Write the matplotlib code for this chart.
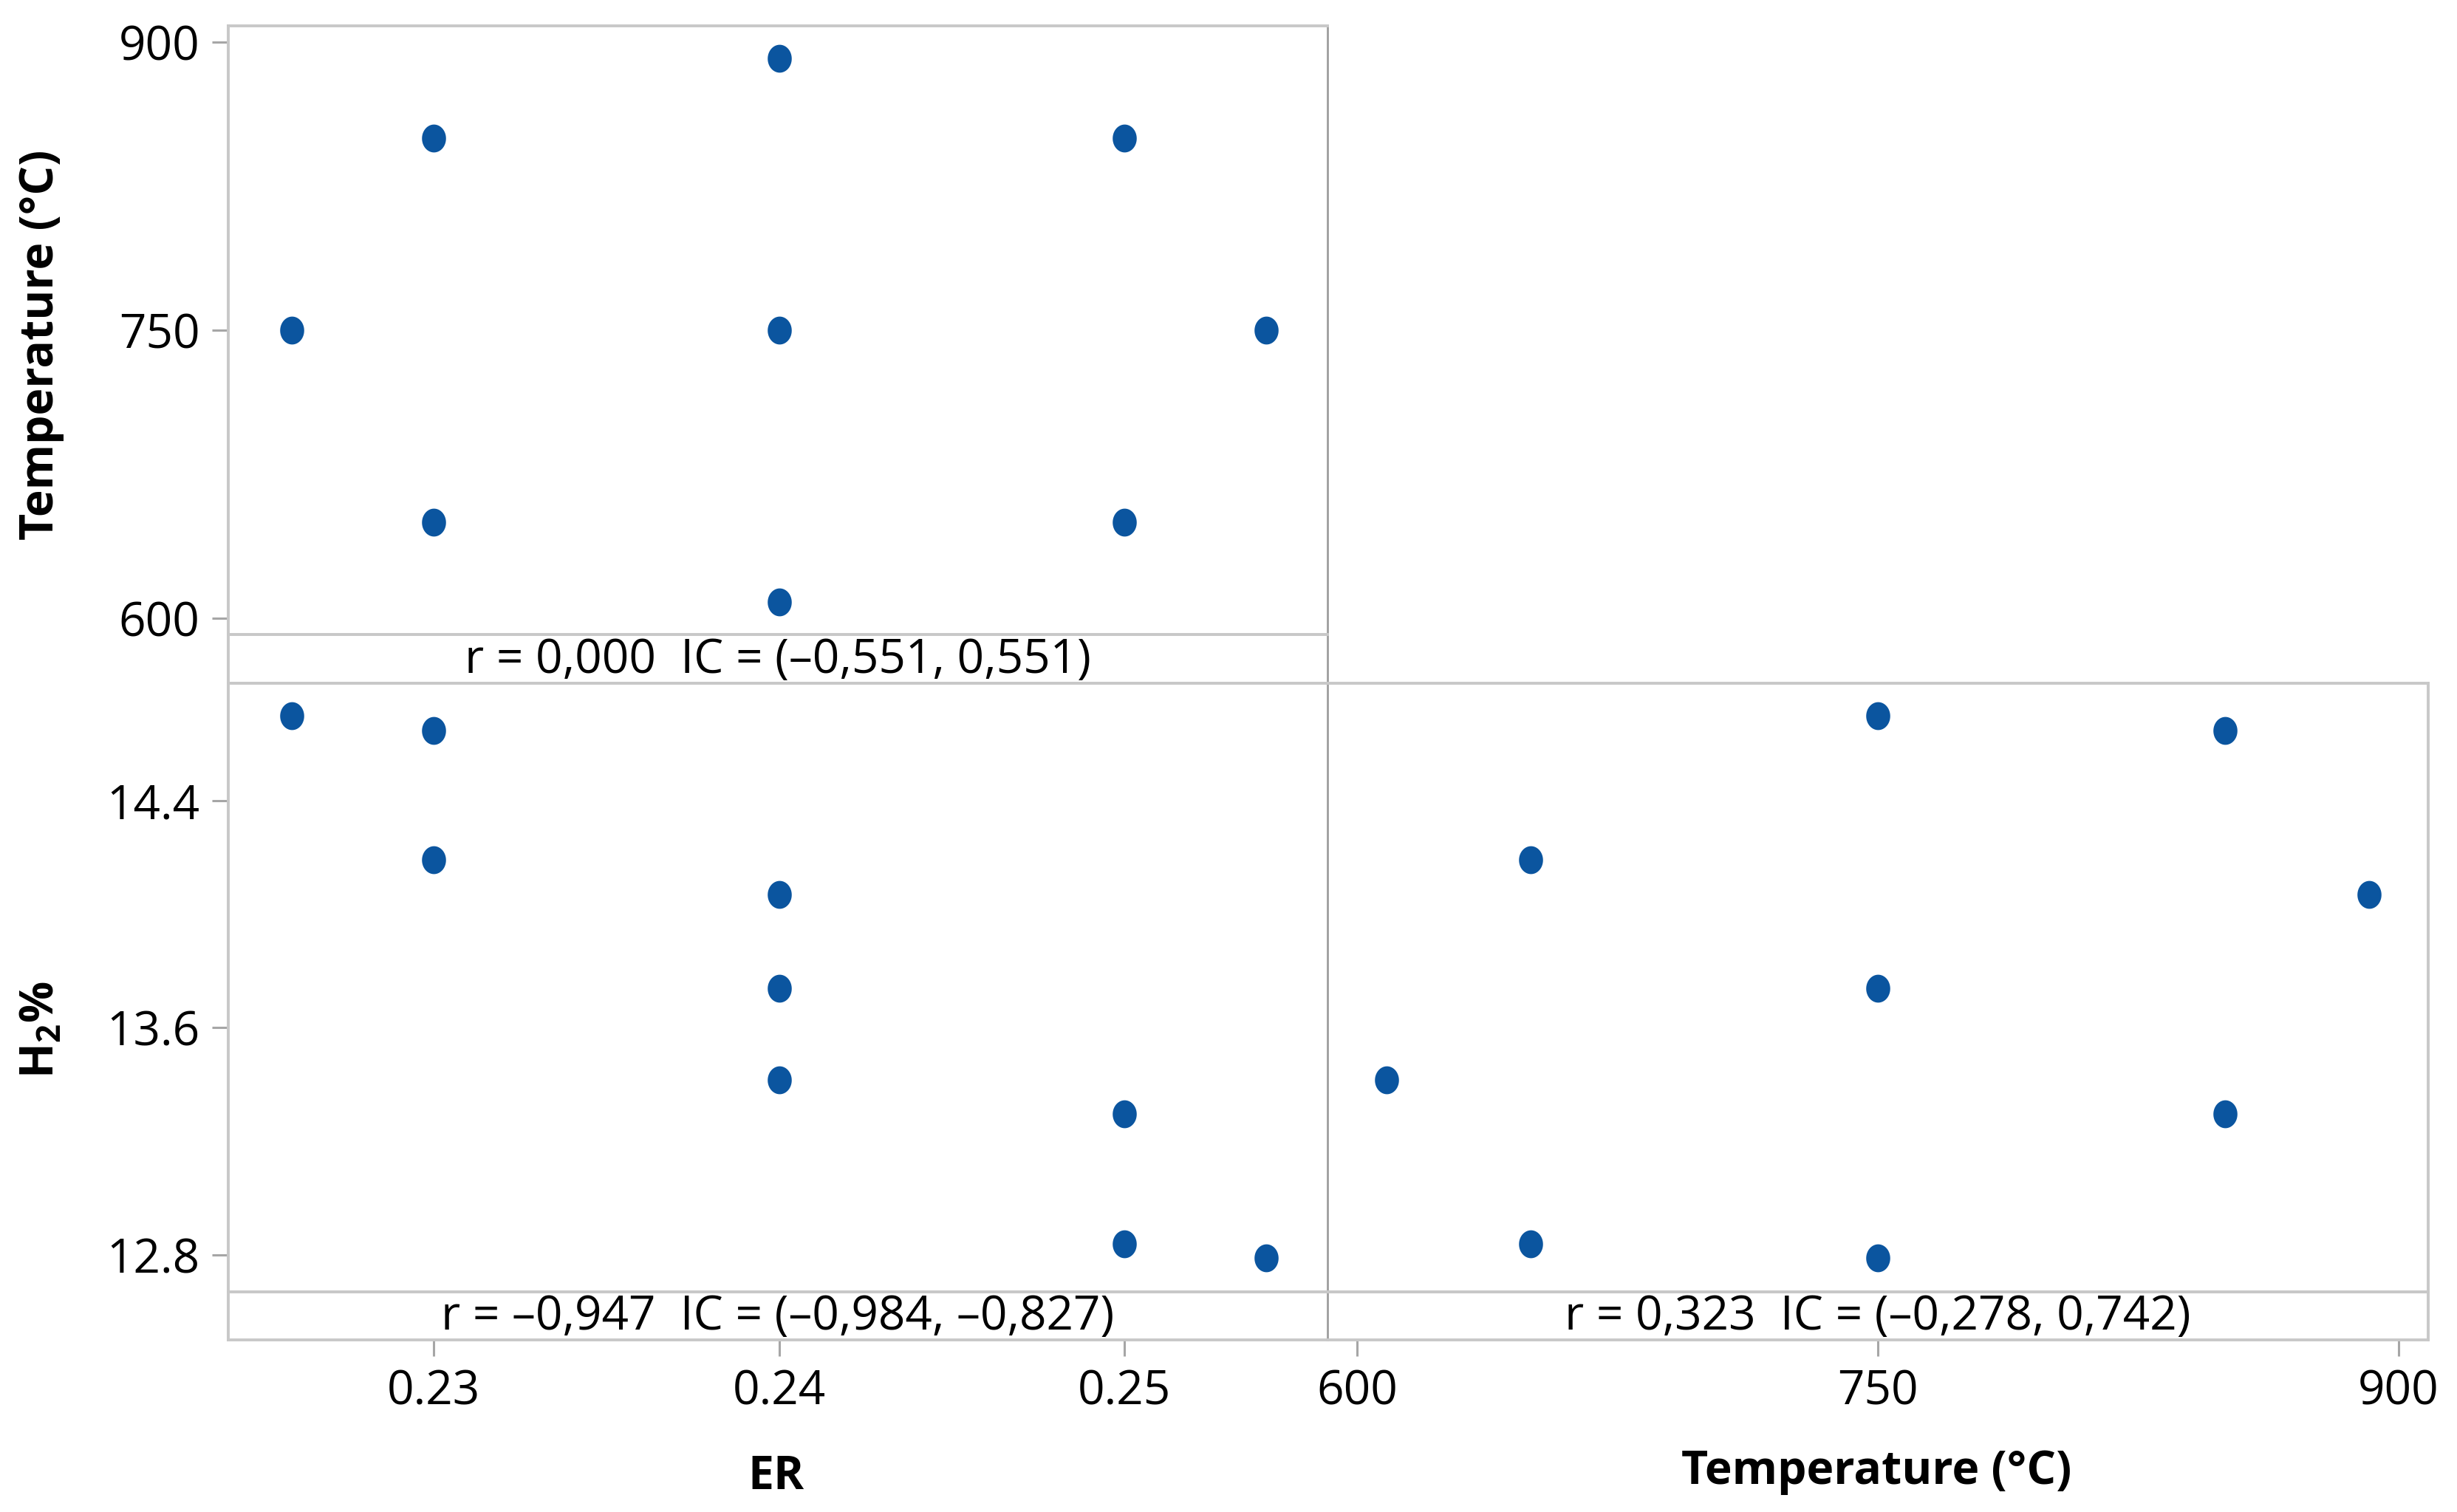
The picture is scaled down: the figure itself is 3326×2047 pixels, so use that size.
import numpy as np
import matplotlib
matplotlib.use("Agg")
import matplotlib.pyplot as plt
from matplotlib.path import Path

plt.rcParams['font.family'] = ['Open Sans', 'DejaVu Sans']
plt.rcParams['mathtext.fontset'] = 'custom'
plt.rcParams['mathtext.rm'] = 'Open Sans'
plt.rcParams['mathtext.bf'] = 'Open Sans:bold'

# data (one row per run)
er = [0.2259, 0.23, 0.23, 0.24, 0.24, 0.24, 0.25, 0.25, 0.2541]
temp = [750, 850, 650, 891.4, 750, 608.6, 850, 650, 750]
h2 = [14.697, 14.645, 14.191, 14.069, 13.738, 13.417, 13.297, 12.841, 12.790]

er_ticks = [0.23, 0.24, 0.25]
temp_ticks = [600, 750, 900]
h2_ticks = [12.8, 13.6, 14.4]

stats = ["r = 0,000  IC = (\u20130,551, 0,551)",
         "r = \u20130,947  IC = (\u20130,984, \u20130,827)",
         "r = 0,323  IC = (\u20130,278, 0,742)"]

er_lim = (0.22405, 0.25588)
temp_lim = (591.5, 908.5)
h2_lim = (12.671, 14.812)

W, H = 3326, 2047
DPI = 200
fig = plt.figure(figsize=(W / DPI, H / DPI), dpi=DPI)

# dots in the original are a touch taller than wide
t = np.linspace(0, 2 * np.pi, 60)
dot = Path(np.column_stack([0.85 * np.cos(t), np.sin(t)]), closed=True)
dot_color = '#0B559F'
border = '#C8C8C8'
divider = '#9E9E9E'
tick_kw = dict(length=7.9, width=1.1, color='#A6A6A6', labelsize=23, pad=6)


def px(x0, y0, x1, y1):
    # pixel box -> figure fraction rect
    return [x0 / W, 1 - y1 / H, (x1 - x0) / W, (y1 - y0) / H]


def panel(x0, x1, y0, yp, ys, xs, ys_data, xlim, ylim, text,
          yticks=None, xticks=None, right_col=False):
    ax = fig.add_axes(px(x0, y0, x1, yp))
    st = fig.add_axes(px(x0, yp, x1, ys), sharex=ax)
    ax.plot(xs, ys_data, linestyle='none', marker=dot, ms=12.6,
            color=dot_color, mec=dot_color)
    ax.set_xlim(*xlim)
    ax.set_ylim(*ylim)
    st.set_ylim(0, 1)
    for a in (ax, st):
        if right_col:
            # don't paint over the divider of the left panel
            a.patch.set_visible(False)
        for s in a.spines.values():
            s.set_color(border)
            s.set_linewidth(1.4)
        a.spines['right'].set_color(divider if not right_col else border)
        a.spines['right'].set_linewidth(1.0 if not right_col else 1.4)
        if right_col:
            a.spines['left'].set_visible(False)
        a.tick_params(**tick_kw)
    st.set_yticks([])
    ax.tick_params(axis='x', bottom=False, labelbottom=False)
    if yticks is not None:
        ax.set_yticks(yticks)
        ax.set_yticklabels([f"{v:g}" if v >= 100 else f"{v:.1f}" for v in yticks])
    else:
        ax.tick_params(axis='y', left=False, labelleft=False)
    if xticks is not None:
        st.set_xticks(xticks)
        st.set_xticklabels([f"{v:g}" for v in xticks])
    else:
        st.tick_params(axis='x', bottom=False, labelbottom=False)
    st.text(0.5, 0.47, text, transform=st.transAxes, ha='center', va='center',
            fontsize=23)
    return ax


panel(309, 1797, 35, 859, 925, er, temp, er_lim, temp_lim, stats[0],
      yticks=temp_ticks)
panel(309, 1797, 925, 1749, 1814, er, h2, er_lim, h2_lim, stats[1],
      yticks=h2_ticks, xticks=er_ticks)
panel(1797, 3287, 925, 1749, 1814, temp, h2, temp_lim, h2_lim, stats[2],
      xticks=temp_ticks, right_col=True)

lab = dict(fontsize=22.5, fontweight='bold', ha='center', va='center')
fig.text(56 / W, 1 - 467 / H, "Temperature (\u00b0C)", rotation=90, **lab)
fig.text(56 / W, 1 - 1394 / H, r"$\mathbf{H_2}$%", rotation=90, **lab)
fig.text(1050 / W, 1 - 1999 / H, "ER", **lab)
fig.text(2540 / W, 1 - 1993 / H, "Temperature (\u00b0C)", **lab)

fig.savefig("out.png", dpi=DPI)
